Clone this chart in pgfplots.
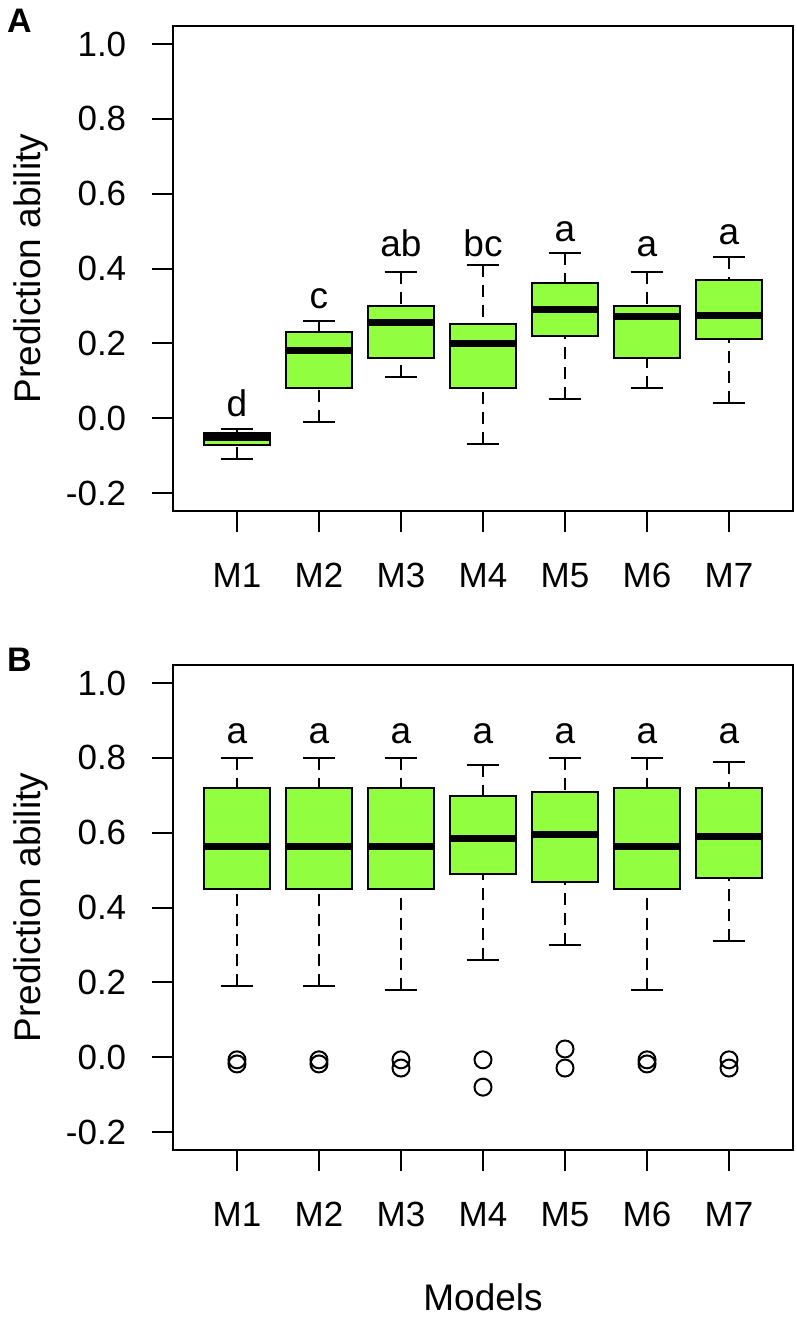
\documentclass[border=0pt]{standalone}
\usepackage{pgfplots}
\pgfplotsset{compat=1.18}
\usepgfplotslibrary{statistics}
\usepackage{fontspec}
\setmainfont{Liberation Sans}
\definecolor{boxgreen}{RGB}{145,255,64}

\tikzset{lt/.style={font=\fontsize{18.5}{21}\selectfont, anchor=base, inner sep=0pt}}
\pgfplotsset{
  panel/.style={
    scale only axis, width=310pt, height=242.5pt,
    xmin=0.22, xmax=7.78, ymin=-0.248, ymax=1.048,
    axis line style={line width=1pt},
    every tick/.style={black, line width=1pt},
    tick align=outside, major tick length=10.5pt,
    xtick pos=left, ytick pos=left,
    xtick={1,2,3,4,5,6,7}, xticklabels={M1,M2,M3,M4,M5,M6,M7},
    ytick={-0.2,0,0.2,0.4,0.6,0.8,1.0},
    yticklabels={-0.2,0.0,0.2,0.4,0.6,0.8,1.0},
    tick label style={font=\fontsize{17.5}{20}\selectfont},
    yticklabel style={anchor=east, inner sep=0pt, xshift=-12.7pt},
    xticklabel style={anchor=north, inner sep=0pt, yshift=-15.5pt},
    every axis y label/.style={at={(axis description cs:-0.2145,0.5)}, rotate=90, anchor=base, font=\fontsize{18.5}{22}\selectfont},
    every axis x label/.style={at={(axis description cs:0.5,-0.33)}, anchor=base, font=\fontsize{18.5}{22}\selectfont},
    ylabel={Prediction ability},
    clip=false,
    boxplot/draw direction=y,
  },
  bx/.style={
    draw=black, line width=1pt, solid,
    mark=o, mark size=4.25pt, mark options={solid, black, line width=1pt},
    boxplot/draw direction=y,
    boxplot/box extend=0.8,
    boxplot/whisker extend=0.4,
    boxplot/every box/.style={draw=black, fill=boxgreen, line width=1pt},
    boxplot/every median/.style={line width=3.5pt, draw=black},
    boxplot/draw/lower whisker/.code={%
      \draw[line width=1pt, dash pattern=on 6pt off 4pt] (boxplot cs:\pgfplotsboxplotvalue{lower whisker}) -- (boxplot cs:\pgfplotsboxplotvalue{lower quartile});
      \draw[line width=1pt, solid] (boxplot whisker cs:\pgfplotsboxplotvalue{lower whisker},0) -- (boxplot whisker cs:\pgfplotsboxplotvalue{lower whisker},1);
    },
    boxplot/draw/upper whisker/.code={%
      \draw[line width=1pt, dash pattern=on 6pt off 4pt] (boxplot cs:\pgfplotsboxplotvalue{upper whisker}) -- (boxplot cs:\pgfplotsboxplotvalue{upper quartile});
      \draw[line width=1pt, solid] (boxplot whisker cs:\pgfplotsboxplotvalue{upper whisker},0) -- (boxplot whisker cs:\pgfplotsboxplotvalue{upper whisker},1);
    },
  },
}

\begin{document}
\begin{tikzpicture}
\path[use as bounding box] (0,0) rectangle (398.5pt,-662pt);

% ---------------- Panel A ----------------
\node[anchor=north west, inner sep=0pt, font=\bfseries\fontsize{17}{20}\selectfont] at (3.3pt,-4.5pt) {A};
\begin{axis}[panel, at={(86.5pt,-13pt)}, anchor=north west]
\addplot[bx, boxplot prepared={draw position=1, lower whisker=-0.110, lower quartile=-0.071, median=-0.052, upper quartile=-0.040, upper whisker=-0.029}] coordinates {};
\addplot[bx, boxplot prepared={draw position=2, lower whisker=-0.010, lower quartile=0.081, median=0.180, upper quartile=0.230, upper whisker=0.260}] coordinates {};
\addplot[bx, boxplot prepared={draw position=3, lower whisker=0.111, lower quartile=0.161, median=0.255, upper quartile=0.300, upper whisker=0.390}] coordinates {};
\addplot[bx, boxplot prepared={draw position=4, lower whisker=-0.070, lower quartile=0.081, median=0.200, upper quartile=0.251, upper whisker=0.410}] coordinates {};
\addplot[bx, boxplot prepared={draw position=5, lower whisker=0.051, lower quartile=0.220, median=0.291, upper quartile=0.360, upper whisker=0.441}] coordinates {};
\addplot[bx, boxplot prepared={draw position=6, lower whisker=0.081, lower quartile=0.161, median=0.271, upper quartile=0.300, upper whisker=0.390}] coordinates {};
\addplot[bx, boxplot prepared={draw position=7, lower whisker=0.040, lower quartile=0.211, median=0.275, upper quartile=0.369, upper whisker=0.431}] coordinates {};
\node[lt] at (axis cs:1,0.005) {d};
\node[lt] at (axis cs:2,0.294) {c};
\node[lt] at (axis cs:3,0.432) {ab};
\node[lt] at (axis cs:4,0.432) {bc};
\node[lt] at (axis cs:5,0.472) {a};
\node[lt] at (axis cs:6,0.431) {a};
\node[lt] at (axis cs:7,0.463) {a};
\end{axis}

% ---------------- Panel B ----------------
\node[anchor=north west, inner sep=0pt, font=\bfseries\fontsize{17}{20}\selectfont] at (3.3pt,-324pt) {B};
\begin{axis}[panel, at={(86.5pt,-332.5pt)}, anchor=north west, xlabel={Models}]
\addplot[bx, boxplot prepared={draw position=1, lower whisker=0.189, lower quartile=0.450, median=0.564, upper quartile=0.719, upper whisker=0.800}] coordinates {(1,-0.007) (1,-0.018)};
\addplot[bx, boxplot prepared={draw position=2, lower whisker=0.190, lower quartile=0.450, median=0.564, upper quartile=0.720, upper whisker=0.800}] coordinates {(2,-0.007) (2,-0.018)};
\addplot[bx, boxplot prepared={draw position=3, lower whisker=0.179, lower quartile=0.450, median=0.564, upper quartile=0.720, upper whisker=0.800}] coordinates {(3,-0.007) (3,-0.029)};
\addplot[bx, boxplot prepared={draw position=4, lower whisker=0.260, lower quartile=0.489, median=0.584, upper quartile=0.699, upper whisker=0.780}] coordinates {(4,-0.007) (4,-0.080)};
\addplot[bx, boxplot prepared={draw position=5, lower whisker=0.300, lower quartile=0.469, median=0.594, upper quartile=0.710, upper whisker=0.800}] coordinates {(5,0.022) (5,-0.029)};
\addplot[bx, boxplot prepared={draw position=6, lower whisker=0.179, lower quartile=0.450, median=0.564, upper quartile=0.720, upper whisker=0.800}] coordinates {(6,-0.007) (6,-0.018)};
\addplot[bx, boxplot prepared={draw position=7, lower whisker=0.310, lower quartile=0.480, median=0.590, upper quartile=0.720, upper whisker=0.790}] coordinates {(7,-0.007) (7,-0.029)};
\node[lt] at (axis cs:1,0.837) {a};
\node[lt] at (axis cs:2,0.837) {a};
\node[lt] at (axis cs:3,0.837) {a};
\node[lt] at (axis cs:4,0.837) {a};
\node[lt] at (axis cs:5,0.837) {a};
\node[lt] at (axis cs:6,0.837) {a};
\node[lt] at (axis cs:7,0.837) {a};
\end{axis}
\end{tikzpicture}
\end{document}
